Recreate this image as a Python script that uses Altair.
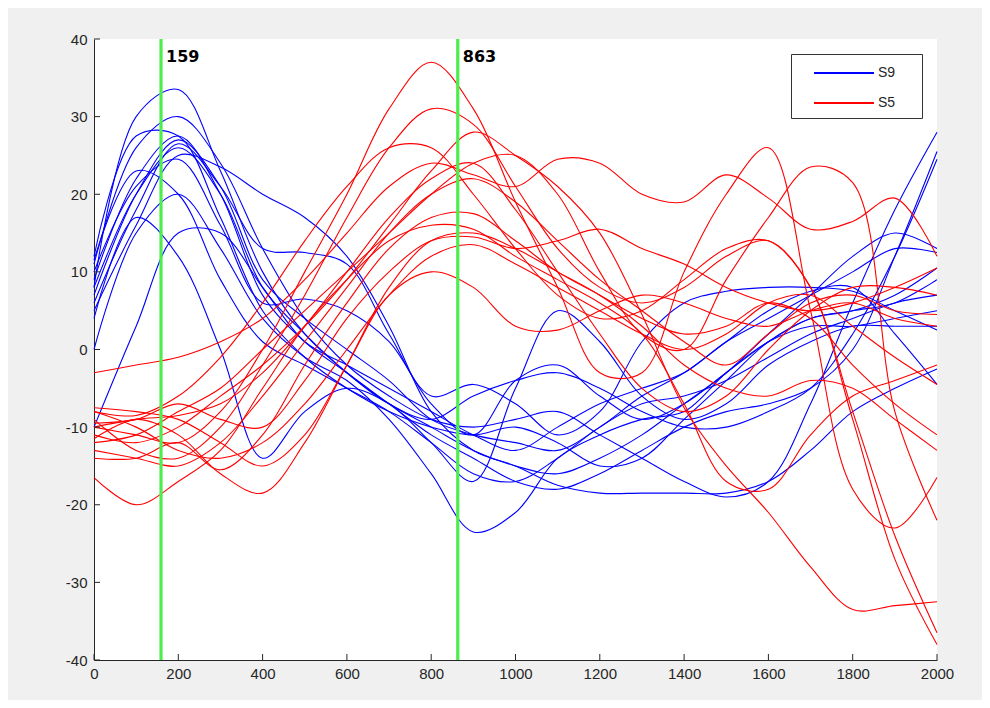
import altair as alt
import pandas as pd

# ---------------- data ----------------
X_KNOTS = list(range(0, 2001, 100))

# S9 (blue) curves, values at x = 0,100,...,2000
S9_01 = [8, 30, 33.5, 23, 10, 2, -3, -7, -10, -13, -15, -16, -14, -11, -7, -3, 2, 7, 12, 15, 13]
S9_02 = [11, 26, 30, 24, 13, 4, -2, -6, -9, -10, -9, -8, -11, -14, -17, -19, -17, -7, 6, 18, 28]
S9_03 = [12, 27.5, 27.5, 17, 5, -1, -5, -8, -10, -11, -10, -12, -15, -14, -9, -4, 1, 4, 5, 7, 10.5]
S9_04 = [9, 22, 27.5, 20, 7, 1, -3, -7, -11, -14, -17, -18, -16, -13, -10, -8, -7, -5, 0, 12, 25.5]
S9_05 = [7, 20, 27, 21, 9, 4, 0, -4, -9, -11, -12, -13, -10, -6, -3, 1, 5, 7.5, 8, 2, -4.5]
S9_06 = [6, 18, 26.5, 21, 13, 12.5, 11, 2, -6, -4.5, -7, -11, -8, 1, 6, 7.5, 8, 8, 7.5, 5, 2.5]
S9_07 = [5, 16, 25, 23.5, 20, 17, 12, 3, -8, -13, -15, -17.5, -18.5, -18.5, -18.5, -18.5, -17, -13, -8, -5, -2.5]
S9_08 = [8, 20, 26, 20, 8, 2, -3, -7, -9, -6, -4, -3, -5, -8, -10, -10, -8, -5, 2, 12, 24.5]
S9_09 = [10, 21, 24.5, 16, 6, 6.5, 5, 1, -7, -11, -4, -2, -6, -9, -7, -3, 1, 4, 5, 6, 9]
S9_10 = [11.5, 23, 20, 9, 1, -2, -5, -8, -12, -16, -17, -14, -10, -7, -6, -4, -1, 2, 4, 6, 7]
S9_11 = [0, 15, 20, 13, 4, -1, -4, -9, -16, -23.5, -21, -14, -11, -9, -8, -3, 1, 3, 3, 4, 5]
S9_12 = [4, 17, 12, 0, -14, -8, -5, -7, -12, -17, -5, 5, 1, -6, -9, -7, -2, 1, 3, 3, 3]
S9_13 = [-10, 3, 15, 15, 8, 1, -2, -5, -8, -11, -13, -10, -7, -5, -3, 1, 4, 7, 10, 13, 12.5]

# S5 (red) curves
S5_01 = [-10, -11, -12, -8, 0, 10, 20, 31, 37, 31, 19, 8, -3, -3, 10, 20, 26, 5, -18, -23, -16.5]
S5_02 = [-9, -13, -14, -10, -2, 7, 17, 26, 31, 29, 21, 13, 8, 6, 8, 12, 14, 8, -9, -27, -38]
S5_03 = [-8, -8.5, -6, -1, 6, 14, 21, 26, 26, 20, 13, 7, 4, 5, 9, 13, 14, 8, -8, -24, -36.5]
S5_04 = [-11, -12, -10, -6, -2, 3, 9, 16, 23, 28, 25, 21, 15, 4.5, -7.5, -15, -21, -28, -33.5, -33, -32.5]
S5_05 = [-12, -11, -8, -5, 0, 5, 10, 15, 20, 24, 25, 20, 10, 2, 0, 9, 17, 23.5, 21.5, -8, -22]
S5_06 = [-3, -2, -1, 1, 4, 9, 15, 21, 24, 22.5, 21, 24.5, 24, 20, 19, 22.5, 19.5, 15.5, 16.5, 19.5, 12]
S5_07 = [-10, -9, -8.5, -7, -3, 3, 10, 17, 22, 24, 18, 10, 2, -5, -8, -6, 0, 5, 8, 8, 7]
S5_08 = [-13, -14, -15, -12, -6, 1, 8, 15, 20, 22, 19, 14, 9, 5, 1, -2, 2, 6, 7, 5, 4.5]
S5_09 = [-14, -14, -12, -15.5, -11, -2, 6, 13, 17, 17.5, 14, 10, 7, 4, 2, 3, 6, 4, -2, -7, -11]
S5_10 = [-16.5, -20, -17, -13, -5, 3, 9, 14, 16, 15.5, 12, 9, 6, 2, -7, -17, -18, -11, -6, -4, -2]
S5_11 = [-11.5, -9, -11, -16, -18.5, -12, -2, 8, 14, 15, 13, 10, 7, 3, -2, -5, -6, -4, -5, -9, -13]
S5_12 = [-9.5, -9, -7, -9, -10, -4, 4, 10, 14, 14.5, 13, 14, 15.5, 13, 11, 8, 6, 5, 6, 8, 10.5]
S5_13 = [-8, -10, -13, -14, -12, -7, 0, 7, 12, 13.5, 11, 8, 5, 2, 0, 2, 6, 7, 3, -1, -4.5]
S5_14 = [-7.5, -8, -9, -12, -15, -11, -2, 7, 10, 8, 3, 2.5, 5, 7, 6, 4, 3, 5, 6, 4, 3]

MARKER_X = [159, 863]
MARKER_TEXT = ["159", "863"]
X_TICKS = list(range(0, 2001, 200))
Y_TICKS = list(range(-40, 41, 10))
GROUPS = ["S9", "S5"]
COLORS = ["#0000ff", "#ff0000"]

s9 = [S9_01, S9_02, S9_03, S9_04, S9_05, S9_06, S9_07, S9_08, S9_09, S9_10, S9_11, S9_12, S9_13]
s5 = [S5_01, S5_02, S5_03, S5_04, S5_05, S5_06, S5_07, S5_08, S5_09, S5_10, S5_11, S5_12, S5_13, S5_14]


def long_table(series, group):
    rows = []
    for i, vals in enumerate(series):
        for x, y in zip(X_KNOTS, vals):
            rows.append({"x": x, "y": y, "curve": f"{group}_{i}", "group": group})
    return pd.DataFrame(rows)


df9 = long_table(s9, "S9")
df5 = long_table(s5, "S5")
df_mark = pd.DataFrame({"x": MARKER_X, "label": MARKER_TEXT})
df_xt = pd.DataFrame({"v": X_TICKS})
df_yt = pd.DataFrame({"v": Y_TICKS})

W, H = 843, 621
AX = "#262626"
xs = alt.Scale(domain=[0, 2000], nice=False, zero=False)
ys = alt.Scale(domain=[-40, 40], nice=False, zero=False)

x_axis = alt.Axis(values=X_TICKS, tickSize=0, labelPadding=6, grid=False, title=None,
                  domainColor=AX, labelColor=AX, labelFont="Liberation Sans",
                  labelFontSize=15, labelExpr="'' + datum.value", labelFlush=False)
y_axis = alt.Axis(values=Y_TICKS, tickSize=0, labelPadding=7, grid=False, title=None,
                  domainColor=AX, labelColor=AX, labelFont="Liberation Sans",
                  labelFontSize=15, labelExpr="'' + datum.value")

color = alt.Color(
    "group:N",
    scale=alt.Scale(domain=GROUPS, range=COLORS),
    legend=alt.Legend(
        title="SS", titleOrient="right", titleColor="white", titleFontSize=14,
        titlePadding=0, titleFont="Liberation Sans",
        orient="none", legendX=697, legendY=15,
        symbolType="M-3,0H3", symbolSize=400, symbolStrokeWidth=2,
        symbolOffset=34, labelOffset=23,
        labelFont="Liberation Sans", labelFontSize=14, labelColor=AX,
        strokeColor="#333333", fillColor="white", padding=8, rowPadding=12,
    ),
)

blue = alt.Chart(df9).mark_line(interpolate="catmull-rom", strokeWidth=1.1).encode(
    x=alt.X("x:Q", scale=xs, axis=x_axis),
    y=alt.Y("y:Q", scale=ys, axis=y_axis),
    color=color,
    detail="curve:N",
)
red = alt.Chart(df5).mark_line(interpolate="catmull-rom", strokeWidth=1.1).encode(
    x=alt.X("x:Q", scale=xs),
    y=alt.Y("y:Q", scale=ys),
    color=color,
    detail="curve:N",
)
green = alt.Chart(df_mark).mark_rule(color="#4cee4c", strokeWidth=3.2).encode(
    x=alt.X("x:Q", scale=xs)
)
labels = alt.Chart(df_mark).mark_text(
    align="left", baseline="middle", dx=5, font="DejaVu Sans", fontWeight="bold",
    fontSize=16, color="black"
).encode(x=alt.X("x:Q", scale=xs), y=alt.value(18), text="label:N")

xt = alt.Chart(df_xt).mark_rule(color=AX).encode(
    x=alt.X("v:Q", scale=xs), y=alt.value(H), y2=alt.value(H - 6)
)
yt = alt.Chart(df_yt).mark_rule(color=AX).encode(
    y=alt.Y("v:Q", scale=ys), x=alt.value(0), x2=alt.value(6)
)

chart = alt.layer(blue, red, green, labels, xt, yt).properties(
    width=W, height=H,
    autosize=alt.AutoSizeParams(type="none"),
    padding={"left": 86, "top": 31, "right": 45, "bottom": 40},
    background="#f0f0f0",
).configure_view(fill="white", stroke=None)

chart.save("out.html", embed_options={"renderer": "svg", "actions": False})
